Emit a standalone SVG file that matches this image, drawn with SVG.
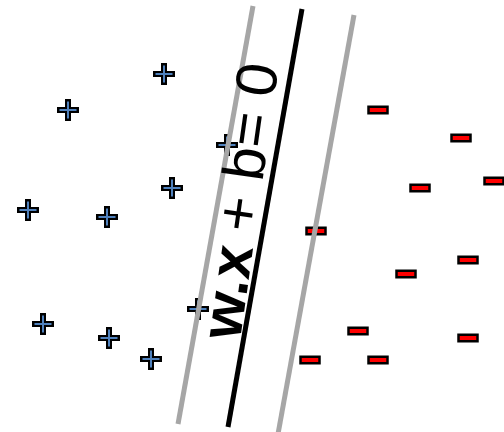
<svg xmlns="http://www.w3.org/2000/svg" width="504" height="432" viewBox="0 0 504 432">
<style>
.po{fill:none;stroke:#000;stroke-width:6;stroke-linecap:square}
.pi{fill:none;stroke:#4f81bd;stroke-width:2}
.mn{fill:#ff0000;stroke:#000;stroke-width:2.5}
.gl{stroke:#a6a6a6;stroke-width:5}
.bl{stroke:#000;stroke-width:5}
.lbl{font-family:"Liberation Sans",Arial,sans-serif;font-size:58px;fill:#000}
</style>
<defs>
<g id="plus"><path class="po" d="M-8,0H8M0,-8V8"/><path class="pi" d="M-8.5,0H8.5M0,-8.5V8.5"/></g>
<rect id="minus" class="mn" x="-9.5" y="-3.25" width="19" height="6.5"/>
</defs>
<rect width="504" height="432" fill="#fff"/>
<g id="p1"><use href="#plus" x="164" y="74"/></g>
<g id="p2"><use href="#plus" x="68" y="110"/></g>
<g id="p3"><use href="#plus" x="227" y="145"/></g>
<g id="p4"><use href="#plus" x="172" y="188"/></g>
<g id="p5"><use href="#plus" x="28" y="210"/></g>
<g id="p6"><use href="#plus" x="107" y="217"/></g>
<g id="p7"><use href="#plus" x="198" y="309"/></g>
<g id="p8"><use href="#plus" x="43" y="324"/></g>
<g id="p9"><use href="#plus" x="109" y="338"/></g>
<g id="p10"><use href="#plus" x="151" y="359"/></g>
<g id="m1"><use href="#minus" x="378" y="110"/></g>
<g id="m2"><use href="#minus" x="461" y="138"/></g>
<g id="m3"><use href="#minus" x="494" y="181"/></g>
<g id="m4"><use href="#minus" x="420" y="188"/></g>
<g id="m5"><use href="#minus" x="316" y="231"/></g>
<g id="m6"><use href="#minus" x="468" y="260"/></g>
<g id="m7"><use href="#minus" x="406" y="274"/></g>
<g id="m8"><use href="#minus" x="358" y="331"/></g>
<g id="m9"><use href="#minus" x="468" y="338"/></g>
<g id="m10"><use href="#minus" x="310" y="360"/></g>
<g id="m11"><use href="#minus" x="378" y="360"/></g>
<g id="connectors">
<line class="gl" x1="253" y1="6" x2="178" y2="424"/>
<line class="bl" x1="302" y1="9" x2="228" y2="427"/>
<line class="gl" x1="354" y1="15" x2="278" y2="434"/>
</g>
<g id="label">
<text class="lbl" transform="translate(240,341) rotate(-82) scale(1.03,1)"><tspan font-weight="bold">w.x</tspan><tspan dx="-2"> + b= 0</tspan></text>
</g>
</svg>
